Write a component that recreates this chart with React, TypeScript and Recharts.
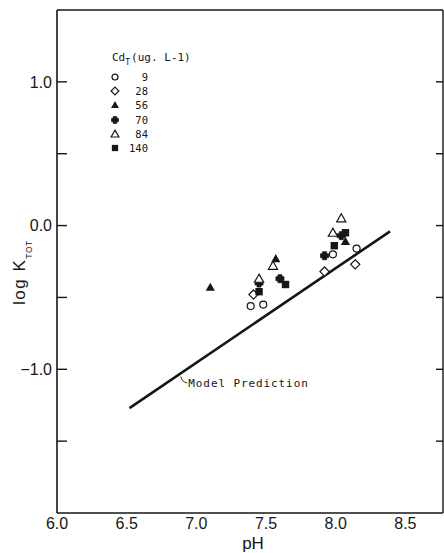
import { Legend, ReferenceDot, ReferenceLine, Scatter, ScatterChart, XAxis, YAxis } from 'recharts'

const xTicks = [6.0, 6.5, 7.0, 7.5, 8.0, 8.5]
const yTicks = [-1.5, -1.0, -0.5, 0.0, 0.5, 1.0]
const yLabelled = [-1.0, 0.0, 1.0]

// Cd_T series (pH, log K_TOT)
const cd9 = [
  { ph: 7.39, k: -0.56 },
  { ph: 7.48, k: -0.55 },
  { ph: 7.98, k: -0.2 },
  { ph: 8.15, k: -0.16 },
]
const cd28 = [
  { ph: 7.41, k: -0.48 },
  { ph: 7.92, k: -0.32 },
  { ph: 8.14, k: -0.27 },
]
const cd56 = [
  { ph: 7.1, k: -0.43 },
  { ph: 7.57, k: -0.23 },
  { ph: 8.07, k: -0.11 },
]
const cd70 = [
  { ph: 7.45, k: -0.4 },
  { ph: 7.6, k: -0.37 },
  { ph: 7.92, k: -0.21 },
  { ph: 8.04, k: -0.07 },
]
const cd84 = [
  { ph: 7.45, k: -0.37 },
  { ph: 7.55, k: -0.28 },
  { ph: 7.98, k: -0.05 },
  { ph: 8.04, k: 0.05 },
]
const cd140 = [
  { ph: 7.45, k: -0.46 },
  { ph: 7.64, k: -0.41 },
  { ph: 7.99, k: -0.14 },
  { ph: 8.07, k: -0.05 },
]
const modelPrediction = [
  { ph: 6.52, k: -1.27 },
  { ph: 8.39, k: -0.04 },
]
const modelLabelAt = { ph: 6.885, k: -1.04 }

type Kind = 'circle' | 'diamond' | 'triFill' | 'cross' | 'triOpen' | 'square'

const series: { name: string; kind: Kind; data: { ph: number; k: number }[] }[] = [
  { name: '9', kind: 'circle', data: cd9 },
  { name: '28', kind: 'diamond', data: cd28 },
  { name: '56', kind: 'triFill', data: cd56 },
  { name: '70', kind: 'cross', data: cd70 },
  { name: '84', kind: 'triOpen', data: cd84 },
  { name: '140', kind: 'square', data: cd140 },
]

const INK = '#161616'
const MONO = '"DejaVu Sans Mono", monospace'
const SANS = '"Liberation Sans", Arial, sans-serif'

function Marker({ cx, cy, kind, s = 1 }: { cx: number; cy: number; kind: Kind; s?: number }) {
  const open = { fill: '#fff', stroke: INK, strokeWidth: 1.2 }
  switch (kind) {
    case 'circle':
      return <circle cx={cx} cy={cy} r={3.5 * s} {...open} />
    case 'diamond': {
      const d = 4.6 * s
      return <path d={`M${cx},${cy - d}L${cx + d},${cy}L${cx},${cy + d}L${cx - d},${cy}Z`} {...open} />
    }
    case 'triFill':
    case 'triOpen': {
      const w = 4.6 * s
      const p = `M${cx},${cy - 4.6 * s}L${cx + w},${cy + 3.5 * s}L${cx - w},${cy + 3.5 * s}Z`
      return kind === 'triFill' ? <path d={p} fill={INK} /> : <path d={p} {...open} />
    }
    case 'cross': {
      const a = 2 * s
      const b = 4 * s
      const p = `M${cx - a},${cy - b}H${cx + a}V${cy - a}H${cx + b}V${cy + a}H${cx + a}V${cy + b}H${cx - a}V${cy + a}H${cx - b}V${cy - a}H${cx - a}Z`
      return <path d={p} fill={INK} stroke={INK} strokeWidth={0.8} strokeLinejoin="round" />
    }
    case 'square': {
      const h = 3.7 * s
      return <rect x={cx - h} y={cy - h} width={2 * h} height={2 * h} fill={INK} />
    }
  }
}

function LegendBox() {
  return (
    <div style={{ fontFamily: MONO, color: INK, width: 100 }}>
      <div style={{ height: 16, lineHeight: '16px', fontSize: 11, paddingLeft: 4, whiteSpace: 'nowrap' }}>
        Cd<span style={{ fontSize: 8, position: 'relative', top: 4, marginRight: 1 }}>T</span>(ug. L-1)
      </div>
      <div style={{ height: 4 }} />
      {series.map((s) => (
        <div key={s.name} style={{ display: 'flex', alignItems: 'center', height: 14.2 }}>
          <svg width={14} height={14}>
            <Marker cx={7} cy={7} kind={s.kind} s={0.85} />
          </svg>
          <div style={{ width: 26, textAlign: 'right', fontSize: 10.5 }}>{s.name}</div>
        </div>
      ))}
    </div>
  )
}

function YLabel() {
  return (
    <text
      transform="rotate(-90, 25, 305)"
      x={25}
      y={305}
      fontFamily={SANS}
      fontSize={17}
      letterSpacing={1.5}
      fill={INK}
    >
      log K
      <tspan fontSize={8.5} letterSpacing={0.6} dy={6.5}>
        TOT
      </tspan>
    </text>
  )
}

export default function App() {
  return (
    <div style={{ width: 444, height: 553, background: '#fff' }}>
      <style>{'body{margin:0;overflow:hidden;background:#fff}'}</style>
      <ScatterChart width={444} height={553} margin={{ top: 10, right: 1, bottom: 0, left: 0 }}>
        <XAxis
          xAxisId="x"
          type="number"
          dataKey="ph"
          domain={[6, 8.77]}
          allowDataOverflow
          ticks={xTicks}
          tickFormatter={(v: number) => v.toFixed(1)}
          height={40}
          tickSize={0}
          tickMargin={5}
          tickLine={false}
          axisLine={{ stroke: INK, strokeWidth: 1.6 }}
          tick={{ fill: INK, fontSize: 16, fontFamily: SANS }}
          label={{
            content: () => (
              <text x={253} y={549} textAnchor="middle" fontFamily={SANS} fontSize={17} fill={INK}>
                pH
              </text>
            ),
          }}
        />
        <XAxis
          xAxisId="xb"
          type="number"
          domain={[6, 8.77]}
          allowDataOverflow
          ticks={xTicks}
          mirror
          tickSize={9}
          tickFormatter={() => ''}
          axisLine={false}
          tickLine={{ stroke: INK, strokeWidth: 1.4 }}
        />
        <XAxis
          xAxisId="xt"
          orientation="top"
          type="number"
          domain={[6, 8.77]}
          allowDataOverflow
          ticks={xTicks}
          mirror
          tickSize={9}
          tickFormatter={() => ''}
          axisLine={{ stroke: INK, strokeWidth: 1.4 }}
          tickLine={{ stroke: INK, strokeWidth: 1.4 }}
        />
        <YAxis
          yAxisId="y"
          type="number"
          dataKey="k"
          domain={[-2, 1.5]}
          allowDataOverflow
          ticks={yLabelled}
          tickFormatter={(v: number) => (v < 0 ? '\u2212' + Math.abs(v).toFixed(1) : v.toFixed(1))}
          width={57}
          tickSize={0}
          tickMargin={5}
          tickLine={false}
          axisLine={{ stroke: INK, strokeWidth: 1.6 }}
          tick={{ fill: INK, fontSize: 16, fontFamily: SANS }}
          label={{ content: () => <YLabel /> }}
        />
        <YAxis
          yAxisId="yl"
          type="number"
          domain={[-2, 1.5]}
          allowDataOverflow
          ticks={yTicks}
          mirror
          tickSize={10}
          tickFormatter={() => ''}
          axisLine={false}
          tickLine={{ stroke: INK, strokeWidth: 1.4 }}
        />
        <YAxis
          yAxisId="yr"
          orientation="right"
          type="number"
          domain={[-2, 1.5]}
          allowDataOverflow
          ticks={yTicks}
          mirror
          tickSize={7}
          tickFormatter={() => ''}
          axisLine={{ stroke: INK, strokeWidth: 1.4 }}
          tickLine={{ stroke: INK, strokeWidth: 1.4 }}
        />
        <ReferenceLine
          xAxisId="x"
          yAxisId="y"
          segment={modelPrediction.map((p) => ({ x: p.ph, y: p.k }))}
          stroke={INK}
          strokeWidth={2.6}
        />
        <ReferenceDot
          xAxisId="x"
          yAxisId="y"
          x={modelLabelAt.ph}
          y={modelLabelAt.k}
          shape={(p: any) => (
            <g>
              <path
                d={`M${p.cx + 0.5},${p.cy + 1.5}Q${p.cx + 1.5},${p.cy + 7} ${p.cx + 7},${p.cy + 8}`}
                fill="none"
                stroke={INK}
                strokeWidth={0.9}
              />
              <text x={p.cx + 8} y={p.cy + 12} fontFamily={MONO} fontSize={11} letterSpacing={0.9} fill={INK}>
                Model Prediction
              </text>
            </g>
          )}
        />
        {series.map((s) => (
          <Scatter
            key={s.name}
            name={s.name}
            xAxisId="x"
            yAxisId="y"
            data={s.data}
            isAnimationActive={false}
            shape={(p: any) => <Marker cx={p.cx} cy={p.cy} kind={s.kind} />}
          />
        ))}
        <Legend
          layout="vertical"
          align="center"
          verticalAlign="middle"
          wrapperStyle={{ left: 108, top: 50, width: 100 }}
          content={() => <LegendBox />}
        />
      </ScatterChart>
    </div>
  )
}
